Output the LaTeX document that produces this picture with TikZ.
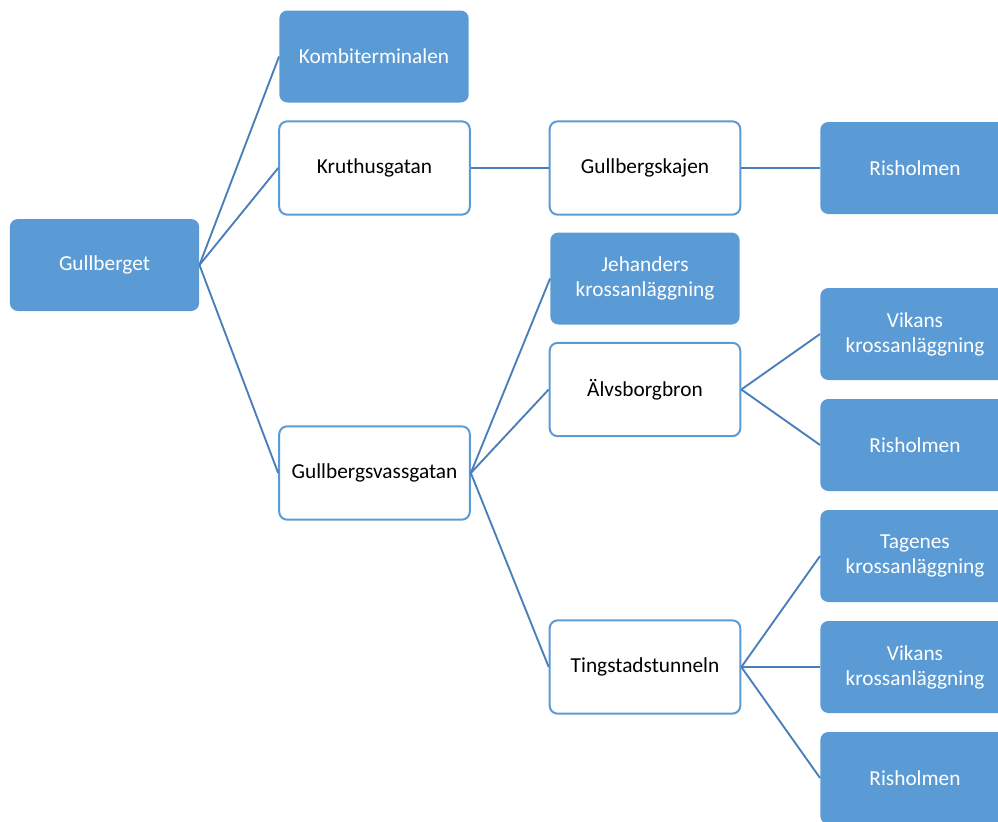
\documentclass[tikz,border=0pt]{standalone}
\usepackage{fontspec}
\setmainfont{Carlito}
\usepackage{tikz}
\usetikzlibrary{positioning}
\definecolor{accent}{HTML}{5B9BD5}
\definecolor{linkblue}{HTML}{4A7EBB}
\tikzstyle{place} = [
    shape=rectangle,
    rounded corners=6pt,
    fill=accent,
    text=white,
    align=center,
    minimum width=142pt,
    minimum height=69pt,
    inner sep=2pt,
    font=\fontsize{16pt}{18.8pt}\selectfont
]
\tikzstyle{road} = [
    place,
    draw=accent,
    line width=1.5pt,
    fill=white,
    text=black,
    minimum width=143pt,
    minimum height=70pt
]
\tikzstyle{link} = [
    draw=linkblue,
    line width=1.4pt
]

\begin{document}
\begin{tikzpicture}[x=0.75pt, y=-0.75pt]
\useasboundingbox (0,0) rectangle (998,821);
\node[place] (gullberget)  at (104.5,265)  {Gullberget};
\node[place] (kombi)       at (374,56.5)   {Kombiterminalen};
\node[road]  (kruthus)     at (374.5,168)  {Kruthusgatan};
\node[road]  (vassgatan)   at (374.5,473)  {Gullbergsvassgatan};
\node[road]  (kajen)       at (645,168)    {Gullbergskajen};
\node[place] (risholmenA)  at (915,168)    {Risholmen};
\node[place] (jehanders)   at (645,278.5)  {Jehanders\\krossanläggning};
\node[road]  (alvsborg)    at (645,389.5)  {Älvsborgbron};
\node[road]  (tingstad)    at (645,667)    {Tingstadstunneln};
\node[place] (vikansA)     at (915,334)    {Vikans\\krossanläggning};
\node[place] (risholmenB)  at (915,445)    {Risholmen};
\node[place] (tagenes)     at (915,556)    {Tagenes\\krossanläggning};
\node[place] (vikansB)     at (915,667)    {Vikans\\krossanläggning};
\node[place] (risholmenC)  at (915,778)    {Risholmen};

\draw[link] (gullberget.east) -- (kombi.west);
\draw[link] (gullberget.east) -- (kruthus.west);
\draw[link] (gullberget.east) -- (vassgatan.west);
\draw[link] (kruthus.east)    -- (kajen.west);
\draw[link] (kajen.east)      -- (risholmenA.west);
\draw[link] (vassgatan.east)  -- (jehanders.west);
\draw[link] (vassgatan.east)  -- (alvsborg.west);
\draw[link] (vassgatan.east)  -- (tingstad.west);
\draw[link] (alvsborg.east)   -- (vikansA.west);
\draw[link] (alvsborg.east)   -- (risholmenB.west);
\draw[link] (tingstad.east)   -- (tagenes.west);
\draw[link] (tingstad.east)   -- (vikansB.west);
\draw[link] (tingstad.east)   -- (risholmenC.west);

\end{tikzpicture}
\end{document}
